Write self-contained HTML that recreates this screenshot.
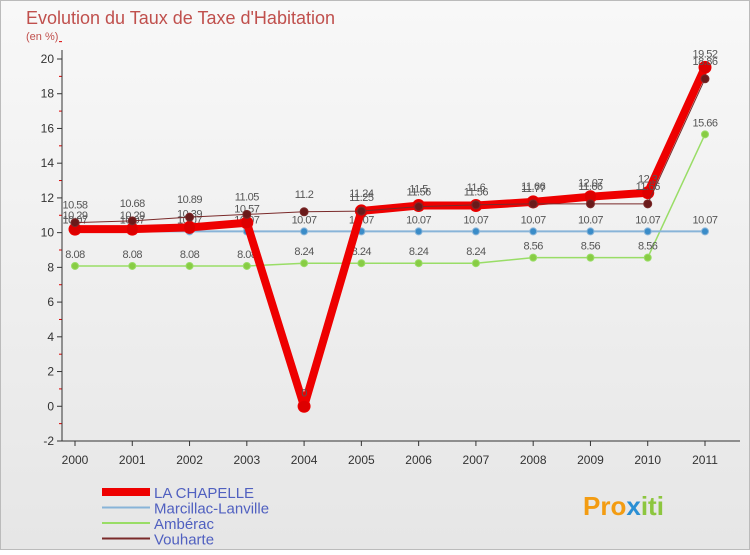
<!DOCTYPE html>
<html><head><meta charset="utf-8"><style>
body{margin:0;background:#fff;font-family:"Liberation Sans",sans-serif}
svg text{font-family:"Liberation Sans",sans-serif}
</style></head><body>
<svg width="750" height="550">
<defs><linearGradient id="bg" x1="0" y1="0" x2="0" y2="1"><stop offset="0" stop-color="#f8f8f8"/><stop offset="1" stop-color="#e6e6e6"/></linearGradient></defs>
<rect x="0.5" y="0.5" width="749" height="549" fill="url(#bg)" stroke="#bbb"/>
<text x="26" y="24" font-size="18" fill="#c0504d">Evolution du Taux de Taxe d'Habitation</text>
<text x="26" y="40" font-size="11" fill="#c0504d">(en %)</text>
<g id="axes"></g><g id="series"></g><g id="legend"></g>
<text x="583" y="515" font-size="26" font-weight="bold"><tspan fill="#f39c12">Pro</tspan><tspan fill="#2a8fd4">x</tspan><tspan fill="#8dc63f">iti</tspan></text>
</svg>
<script>
const years=[2000,2001,2002,2003,2004,2005,2006,2007,2008,2009,2010,2011];
const laChapelle=[10.2,10.2,10.3,10.57,0,11.25,11.56,11.56,11.77,12.07,12.3,19.52];
const laChapelleLabels=["10.29","10.29","10.39","10.57","0","11.25","11.56","11.56","11.77","12.07","12.3","19.52"];
const marcillac=[10.07,10.07,10.07,10.07,10.07,10.07,10.07,10.07,10.07,10.07,10.07,10.07];
const amberac=[8.08,8.08,8.08,8.08,8.24,8.24,8.24,8.24,8.56,8.56,8.56,15.66];
const vouharte=[10.58,10.68,10.89,11.05,11.2,11.24,11.5,11.6,11.66,11.66,11.66,18.86];
const yTicks=[-2,0,2,4,6,8,10,12,14,16,18,20];
const NS="http://www.w3.org/2000/svg";
const x=i=>75+i*(705-75)/11;
const y=v=>59+(20-v)*(441-59)/22;
function mk(tag,attrs,parent,txt){const e=document.createElementNS(NS,tag);for(const k in attrs)e.setAttribute(k,attrs[k]);if(txt!==undefined)e.textContent=txt;parent.appendChild(e);return e;}
const ax=document.getElementById('axes');
yTicks.forEach(t=>{
 const g=mk('line',{x1:57,x2:62,y1:y(t),y2:y(t),stroke:'#333'},ax);
 
 
 const m=mk('line',{x1:59,x2:62,y1:y(t+1),y2:y(t+1),stroke:'#d00'},ax);
 
 
 const l=mk('text',{x:54,y:y(t)+4,'font-size':12,'text-anchor':'end',fill:'#333'},ax,String(t));
 
 
});
const ya=mk('line',{x1:62,x2:62,y1:50,y2:441,stroke:'#333'},ax);


const xa=mk('line',{x1:62,x2:740,y1:441,y2:441,stroke:'#333'},ax);


years.forEach((yr,i)=>{
 const t=mk('line',{x1:x(i),x2:x(i),y1:441,y2:446,stroke:'#333'},ax);
 
 
 const l=mk('text',{x:x(i),y:464,'font-size':12,'text-anchor':'middle',fill:'#333'},ax,String(yr));
 
 
});
const sg=document.getElementById('series');
function series(vals,labels,color,w,r,name,dot,dy){
 const g=mk('g',{},sg);
 
 
 const p=mk('polyline',{points:vals.map((v,i)=>x(i)+','+y(v)).join(' '),fill:'none',stroke:color,'stroke-width':w,'stroke-linejoin':'round'},g);
 
 
 vals.forEach((v,i)=>{
  const c=mk('circle',{cx:x(i),cy:y(v),r:r,fill:dot,stroke:color,'stroke-width':1},g);
  
  
  const t=mk('text',{x:x(i),y:y(v)+dy,'font-size':11,'text-anchor':'middle',fill:'#555','letter-spacing':'-0.5'},g,labels[i]);
  
  
 });
}
const fmt=a=>a.map(String);
series(amberac,fmt(amberac),'#99dd66',1.5,3.5,'amberac','#88cc44',-8);
series(marcillac,fmt(marcillac),'#88b4d8',2,3.5,'marcillac-lanville','#3a8cc8',-8);
series(laChapelle,laChapelleLabels,'#ee0000',8,6,'la-chapelle','#dd0000',-10);
series(vouharte,fmt(vouharte),'#7a2a2a',1,4,'vouharte','#6a1a1a',-14);
const lg=document.getElementById('legend');
const items=[['LA CHAPELLE','#ee0000',8],['Marcillac-Lanville','#88b4d8',2],['Ambérac','#99dd66',2],['Vouharte','#7a2a2a',2]];
items.forEach((it,i)=>{
 const yy=492+i*15.5;
 const l=mk('line',{x1:102,x2:150,y1:yy,y2:yy,stroke:it[1],'stroke-width':it[2]},lg);
 
 
 const t=mk('text',{x:154,y:yy+6,'font-size':15,fill:'#5060c0'},lg,it[0]);
 
 
});
</script>
</body></html>
